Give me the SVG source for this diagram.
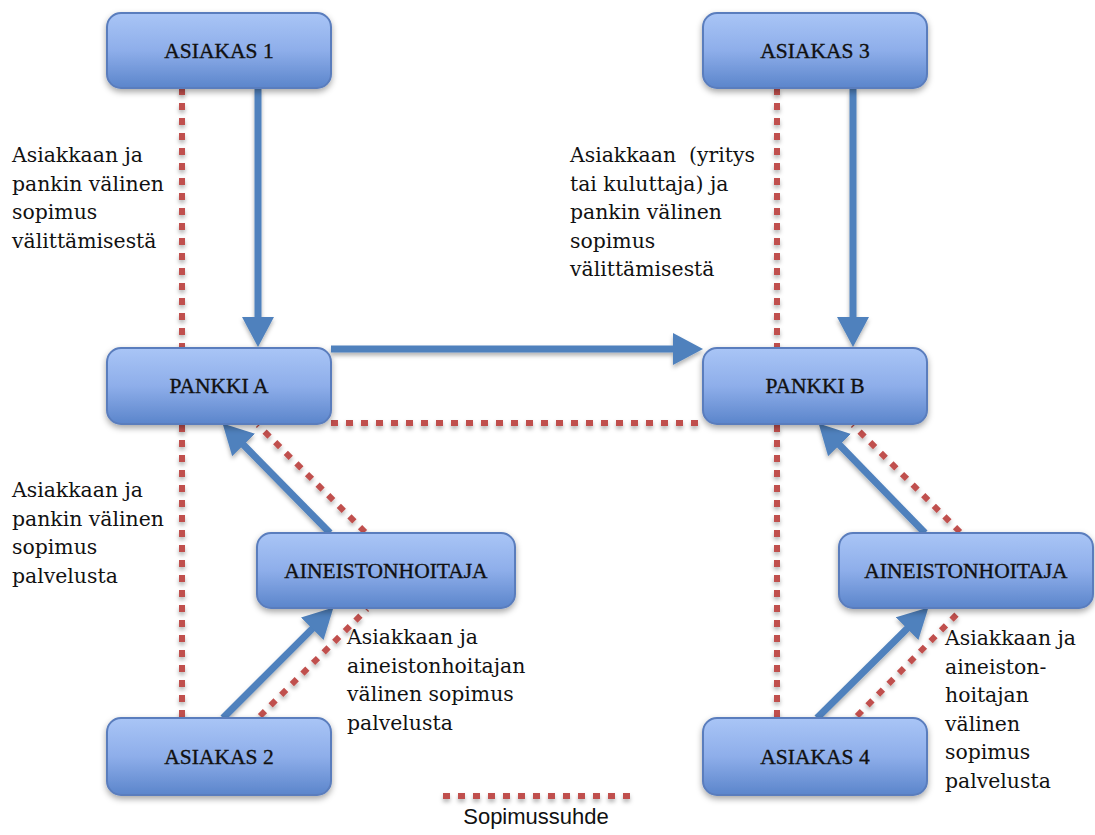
<svg xmlns="http://www.w3.org/2000/svg" width="1095" height="835" viewBox="0 0 1095 835">
<defs>
<linearGradient id="boxGrad" x1="0" y1="0" x2="0" y2="1">
<stop offset="0" stop-color="#a9c5f6"/>
<stop offset="0.5" stop-color="#8eaeea"/>
<stop offset="1" stop-color="#5b85cb"/>
</linearGradient>
<filter id="shadow" x="-20%" y="-20%" width="140%" height="160%">
<feDropShadow dx="0" dy="3" stdDeviation="3" flood-color="#000" flood-opacity="0.35"/>
</filter>
<filter id="lshadow" filterUnits="userSpaceOnUse" x="0" y="0" width="1095" height="835">
<feDropShadow dx="0" dy="3" stdDeviation="2" flood-color="#000" flood-opacity="0.3"/>
</filter>
<marker id="arrow" markerUnits="userSpaceOnUse" markerWidth="32" markerHeight="34" refX="8" refY="16" orient="auto">
<path d="M0,0 L30,16 L0,32 Z" fill="#4f81bd"/>
</marker>
</defs>
<style>
.box{fill:url(#boxGrad);stroke:#5a7dbd;stroke-width:2;filter:url(#shadow)}
.lbl{font-family:"Liberation Serif","Times New Roman",serif;font-size:21.5px;fill:#111;stroke:#111;stroke-width:0.35;text-anchor:middle}
.txt{font-family:"DejaVu Serif",serif;font-size:20.4px;fill:#111;white-space:pre}
.dot{stroke:#c0504d;stroke-width:6;stroke-dasharray:7 8;fill:none}
.arr{stroke:#4f81bd;stroke-width:7;fill:none;marker-end:url(#arrow)}
.leg{font-family:"Liberation Sans",Arial,sans-serif;font-size:22px;fill:#111;text-anchor:middle}
</style>

<g id="connectors" filter="url(#lshadow)">
<line class="dot" x1="182" y1="88" x2="182" y2="347"/>
<line class="dot" x1="777" y1="88" x2="777" y2="347"/>
<line class="dot" x1="331" y1="423" x2="703" y2="423"/>
<line class="dot" x1="182" y1="425" x2="182" y2="718"/>
<line class="dot" x1="777" y1="425" x2="777" y2="718"/>
<line class="dot" x1="365" y1="532" x2="258" y2="425"/>
<line class="dot" x1="960" y1="532" x2="853" y2="425"/>
<line class="dot" x1="260" y1="716" x2="367" y2="609"/>
<line class="dot" x1="857" y1="716" x2="962" y2="609"/>
<line class="arr" x1="258" y1="88" x2="258" y2="325"/>
<line class="arr" x1="853" y1="88" x2="853" y2="325"/>
<line class="arr" x1="331" y1="349" x2="681" y2="349"/>
<line class="arr" x1="330" y1="533" x2="238" y2="439.3"/>
<line class="arr" x1="925" y1="533" x2="834" y2="439.3"/>
<line class="arr" x1="223" y1="718" x2="317.9" y2="623.1"/>
<line class="arr" x1="817" y1="718" x2="912.8" y2="623.1"/>
</g>

<g id="asiakas1"><rect class="box" x="107" y="13" width="224" height="75" rx="14"/><text class="lbl" x="219" y="58">ASIAKAS 1</text></g>
<g id="asiakas3"><rect class="box" x="703" y="13" width="224" height="75" rx="14"/><text class="lbl" x="815" y="58">ASIAKAS 3</text></g>
<g id="pankkiA"><rect class="box" x="107" y="348" width="224" height="76" rx="14"/><text class="lbl" x="219" y="393">PANKKI A</text></g>
<g id="pankkiB"><rect class="box" x="703" y="348" width="224" height="76" rx="14"/><text class="lbl" x="815" y="393">PANKKI B</text></g>
<g id="aineistonhoitajaL"><rect class="box" x="257" y="533" width="258" height="75" rx="14"/><text class="lbl" x="386" y="578">AINEISTONHOITAJA</text></g>
<g id="aineistonhoitajaR"><rect class="box" x="839" y="533" width="254" height="75" rx="14"/><text class="lbl" x="966" y="578">AINEISTONHOITAJA</text></g>
<g id="asiakas2"><rect class="box" x="107" y="718" width="224" height="77" rx="14"/><text class="lbl" x="219" y="764">ASIAKAS 2</text></g>
<g id="asiakas4"><rect class="box" x="703" y="718" width="224" height="77" rx="14"/><text class="lbl" x="815" y="764">ASIAKAS 4</text></g>

<g id="labels">
<text class="txt" x="12" y="162">Asiakkaan ja</text>
<text class="txt" x="12" y="190.5">pankin välinen</text>
<text class="txt" x="12" y="219">sopimus</text>
<text class="txt" x="12" y="247.5">välittämisestä</text>

<text class="txt" x="570" y="162">Asiakkaan  (yritys</text>
<text class="txt" x="570" y="190.5">tai kuluttaja) ja</text>
<text class="txt" x="570" y="219">pankin välinen</text>
<text class="txt" x="570" y="247.5">sopimus</text>
<text class="txt" x="570" y="276">välittämisestä</text>

<text class="txt" x="12" y="497">Asiakkaan ja</text>
<text class="txt" x="12" y="525.5">pankin välinen</text>
<text class="txt" x="12" y="554">sopimus</text>
<text class="txt" x="12" y="582.5">palvelusta</text>

<text class="txt" x="347" y="644">Asiakkaan ja</text>
<text class="txt" x="347" y="672.5">aineistonhoitajan</text>
<text class="txt" x="347" y="701">välinen sopimus</text>
<text class="txt" x="347" y="729.5">palvelusta</text>

<text class="txt" x="945" y="645">Asiakkaan ja</text>
<text class="txt" x="945" y="673.5">aineiston-</text>
<text class="txt" x="945" y="702">hoitajan</text>
<text class="txt" x="945" y="730.5">välinen</text>
<text class="txt" x="945" y="759">sopimus</text>
<text class="txt" x="945" y="787.5">palvelusta</text>
</g>

<g id="legend" filter="url(#lshadow)">
<line class="dot" x1="443" y1="796" x2="630" y2="796"/>
</g>
<text class="leg" x="536" y="824">Sopimussuhde</text>
</svg>
